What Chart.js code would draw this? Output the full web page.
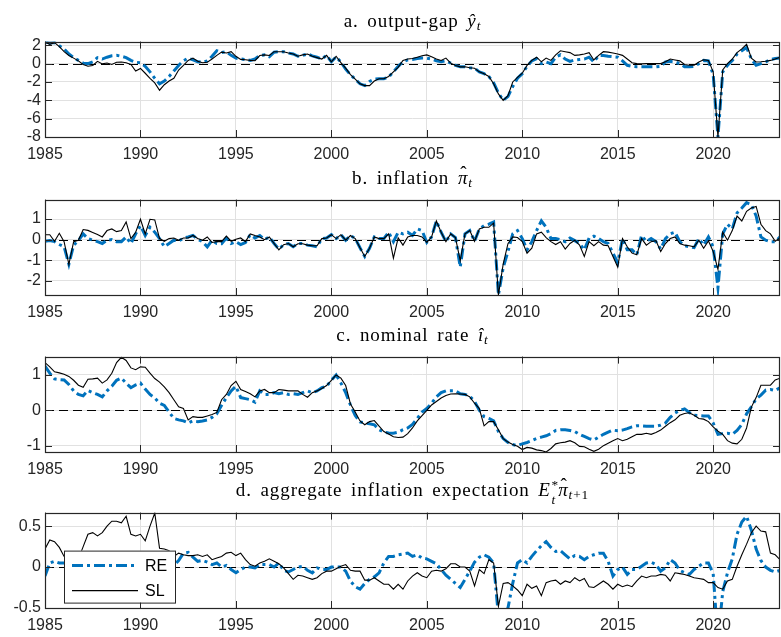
<!DOCTYPE html>
<html>
<head>
<meta charset="utf-8">
<script src="https://cdn.jsdelivr.net/npm/chart.js@4.4.1/dist/chart.umd.min.js"></script>
<style>
  html, body { margin: 0; padding: 0; background: #ffffff; }
  body { width: 781px; height: 637px; position: relative; overflow: hidden; }
  canvas { position: absolute; left: 0; }
  .ttl {
    position: absolute; left: 45px; width: 735px; text-align: center;
    font-family: "Liberation Serif", "Times New Roman", serif;
    font-size: 19px; line-height: 20px; color: #000; z-index: 2;
    letter-spacing: 0.9px; word-spacing: 3px; white-space: nowrap;
  }
  .ttl sub { font-size: 70%; line-height: 0; vertical-align: -0.25em; }
  .hat { position: relative; display: inline-block; }
  .hat .hc { position: absolute; left: 0.12em; top: -0.28em; font-style: normal; }
  .ss { position: relative; display: inline-block; width: 0.55em; height: 1em; font-size: 70%; vertical-align: 0; }
  .ss .sp { position: absolute; left: 0.05em; top: -0.55em; font-style: normal; }
  .ss .sb { position: absolute; left: 0.05em; top: 0.55em; }
</style>
</head>
<body>
<div class="ttl" style="top:11px">a. output-gap <i>ŷ</i><sub><i>t</i></sub></div>
<div class="ttl" style="top:168px">b. inflation <span class="hat"><i>π</i><span class="hc">ˆ</span></span><sub><i>t</i></sub></div>
<div class="ttl" style="top:325px">c. nominal rate <i>î</i><sub><i>t</i></sub></div>
<div class="ttl" style="top:480px">d. aggregate inflation expectation <i>E</i><span class="ss"><span class="sp">*</span><span class="sb"><i>t</i></span></span><span class="hat"><i>π</i><span class="hc">ˆ</span></span><sub><i>t</i>+1</sub></div>

<canvas id="cA" width="781" height="135" style="top:28px"></canvas>
<canvas id="cB" width="781" height="135" style="top:186px"></canvas>
<canvas id="cC" width="781" height="135" style="top:343px"></canvas>
<canvas id="cD" width="781" height="135" style="top:499px"></canvas>

<script>
// Quarterly series, 1985Q1 .. 2023Q3 (four values per year)
const startYear = 1985;

// a. output gap
const gapRE = [
  2.35, 2.25, 2.3, 1.95,   1.6, 1.05, 0.65, 0.35,   0.05, 0.0, 0.2, 0.65,   0.5, 0.7, 0.85, 0.9,
  0.8, 0.65, 0.35, 0.15,   0.1, -0.3, -0.9, -1.6,   -2.2, -1.9, -1.4, -0.8,   -0.2, 0.3, 0.6, 0.4,
  0.2, 0.15, 0.3, 0.8,     1.4, 1.2, 1.3, 0.9,      0.6, 0.5, 0.45, 0.35,     0.5, 0.9, 0.95, 0.75,
  1.25, 1.3, 1.3, 1.15,    1.05, 0.8, 0.9, 1.05,    0.85, 0.7, 0.5, 0.9,      0.2, 0.75, 0.15, -0.6,
  -1.2, -1.7, -2.2, -2.4,  -1.95, -1.7, -1.65, -1.65, -1.45, -0.9, -0.3, 0.2, 0.4, 0.45, 0.55, 0.6,
  0.6, 0.5, 0.3, 0.2,      0.3, 0.05, -0.2, -0.35,  -0.35, -0.45, -0.5, -0.9, -1.1, -1.4, -2.1, -3.2,
  -4.0, -3.6, -2.5, -1.6,  -1.1, -0.3, 0.3, 0.55,   0.0, 0.18, 0.0, 0.7,      0.95, 0.5, 0.25, 0.4,
  0.45, 0.5, 0.7, 0.18,    0.88, 0.88, 0.8, 0.75,   0.7, 0.3, -0.18, -0.3,    -0.35, -0.35, -0.35, -0.35,
  -0.35, -0.3, 0.18, 0.25, 0.18, 0.0, -0.35, -0.35, -0.3, 0.0, 0.35, 0.3,    -1.2, -8.0, -0.9, -0.18,
  0.35, 1.05, 1.4, 1.75,   0.5, -0.18, 0.0, 0.18,   0.45, 0.55, 0.6
];
const gapSL = [
  2.35, 2.1, 2.28, 1.85,   1.3, 0.88, 0.6, 0.3,     -0.1, -0.28, -0.2, 0.25,  -0.03, 0.07, -0.1, 0.15,
  0.18, 0.1, -0.1, -0.8,   -0.53, -1.05, -1.6, -2.1, -2.9, -2.3, -1.9, -1.6, -0.7, -0.2, 0.35, 0.6,
  0.25, 0.1, 0.15, 0.5,    0.9, 1.25, 1.16, 1.3,    0.8, 0.46, 0.42, 0.35,    0.32, 0.88, 0.95, 0.88,
  1.3, 1.3, 1.3, 1.15,     1.05, 0.8, 0.95, 1.05,   0.8, 0.65, 0.5, 0.9,      0.2, 0.8, 0.1, -0.5,
  -1.2, -1.7, -2.2, -2.4,  -2.4, -1.9, -1.65, -1.65, -1.4, -0.9, -0.4, 0.35, 0.5, 0.55, 0.7, 0.85,
  0.95, 0.75, 0.5, 0.35,   0.6, 0.05, -0.2, -0.35,  -0.35, -0.45, -0.5, -0.9, -1.1, -1.4, -2.2, -3.3,
  -4.0, -3.5, -2.0, -1.5,  -1.05, -0.2, 0.35, 0.7,  0.2, 0.6, 0.35, 0.95,     1.4, 1.3, 1.2, 0.9,
  0.95, 1.05, 1.2, 0.4,    0.9, 1.3, 1.25, 1.15,    1.05, 0.9, 0.5, 0.1,      0.0, -0.03, 0.0, 0.0,
  0.0, 0.0, 0.2, 0.5,      0.4, 0.3, -0.1, -0.18,   -0.18, 0.18, 0.42, 0.35,  -0.9, -8.0, -0.7, 0.0,
  0.5, 1.2, 1.6, 2.1,      0.6, 0.18, 0.2, 0.25,    0.35, 0.5, 0.7
];

// b. inflation
const inflRE = [
  -0.08, -0.05, -0.1, -0.24, -0.35, -1.2, -0.27, -0.05, 0.28, 0.05, -0.03, -0.1, -0.19, -0.03, 0.0, -0.1,
  -0.1, 0.13, -0.19, 0.28,   0.68, 0.2, 0.6, 0.36,     0.05, -0.35, -0.19, -0.03, -0.08, 0.08, 0.13, 0.2,
  0.02, -0.1, -0.35, -0.03,  -0.19, -0.2, 0.08, -0.19, -0.1, -0.24, -0.14, 0.24, 0.08, 0.2, 0.0, 0.13,
  -0.19, -0.46, -0.25, -0.19, -0.35, -0.19, -0.19, -0.27, -0.3, -0.35, 0.05, 0.08, 0.24, 0.05, 0.24, -0.03,
  0.2, 0.05, -0.4, -0.82,    -0.42, 0.13, 0.05, 0.05,  0.36, -0.1, 0.36, 0.28,  0.36, 0.2, 0.52, 0.44,
  -0.14, 0.13, 0.91, 0.36,   -0.1, 0.28, 0.1, -1.34,   0.28, 0.44, -0.08, 0.52, 0.68, 0.75, 0.86, -2.7,
  -1.37, -0.58, 0.28, 0.44,  0.05, -0.5, -0.1, 0.44,   0.91, 0.6, 0.05, 0.05,   0.0, -0.1, 0.08, -0.05,
  -0.19, -0.5, 0.08, 0.17,   0.05, -0.1, -0.19, -0.66, -1.13, 0.05, -0.5, -0.5, -0.74, 0.2, -0.1, 0.05,
  -0.1, -0.46, 0.05, 0.28,   0.36, -0.1, -0.3, -0.35,  -0.39, 0.05, -0.27, 0.13, -0.35, -2.34, 0.28, 0.75,
  0.52, 1.3, 1.54, 1.8,      1.7, 1.15, 0.13, -0.03,   -0.1, -0.1, 0.13
];
const inflSL = [
  0.24, 0.24, -0.08, 0.31,   -0.1, -1.21, -0.1, -0.03, 0.49, 0.45, 0.35, 0.25, 0.13, 0.44, 0.52, 0.39,
  0.44, 0.86, 0.05, 0.36,    0.99, 0.28, 0.99, 0.96,   0.05, -0.08, 0.05, 0.08, -0.03, 0.08, 0.08, 0.2,
  0.05, -0.03, 0.13, -0.14,  -0.1, -0.1, 0.17, -0.08,  0.02, 0.08, -0.1, 0.28, 0.2, 0.13, 0.0, 0.13,
  -0.19, -0.5, -0.25, -0.19, -0.35, -0.2, -0.2, -0.27, -0.3, -0.3, 0.05, 0.08, 0.24, 0.05, 0.24, -0.03,
  0.2, 0.05, -0.4, -0.82,    -0.42, 0.13, 0.05, 0.05,  0.28, -0.9, 0.08, -0.27, 0.13, 0.2, 0.2, 0.13,
  -0.14, 0.13, 0.91, 0.36,   -0.1, 0.28, 0.1, -1.02,   0.28, 0.44, -0.08, 0.52, 0.6, 0.6, 0.8, -2.7,
  -1.2, -0.2, 0.13, 0.1,     -0.1, -0.66, -0.42, 0.28, 0.36, 0.1, -0.1, -0.24, -0.1, -0.46, -0.19, -0.03,
  -0.27, -0.82, -0.1, -0.3,  -0.1, -0.27, -0.3, -0.82, -1.34, 0.05, -0.35, -0.66, -0.74, 0.05, -0.27, -0.1,
  -0.05, -0.58, -0.19, 0.05, 0.13, -0.19, -0.27, -0.3, -0.35, -0.03, -0.42, -0.06, -0.58, -1.45, 0.36, -0.03,
  0.44, 1.15, 0.91, 1.38,    1.54, 1.62, 0.75, 0.44,   0.28, -0.08, 0.08
];

// c. nominal rate
const rateRE = [
  1.25, 1.05, 0.89, 0.87,   0.86, 0.73, 0.55, 0.45,   0.41, 0.56, 0.5, 0.45,    0.38, 0.55, 0.68, 0.85,
  0.91, 0.77, 0.64, 0.72,   0.77, 0.6, 0.45, 0.35,    0.2, 0.14, -0.05, -0.23,  -0.27, -0.3, -0.36, -0.3,
  -0.32, -0.3, -0.27, -0.2, -0.1, 0.14, 0.36, 0.55,   0.68, 0.36, 0.33, 0.3,    0.23, 0.55, 0.45, 0.45,
  0.5, 0.47, 0.5, 0.45,     0.47, 0.45, 0.5, 0.55,    0.5, 0.55, 0.64, 0.68,    0.85, 1.0, 0.77, 0.5,
  0.15, -0.15, -0.33, -0.36, -0.38, -0.41, -0.55, -0.62, -0.64, -0.65, -0.62, -0.55, -0.5, -0.4, -0.23, -0.05,
  0.05, 0.2, 0.38, 0.5,     0.55, 0.55, 0.55, 0.47,   0.45, 0.4, 0.25, 0.0,     -0.18, -0.23, -0.3, -0.6,
  -0.8, -0.91, -0.97, -1.0, -0.95, -0.91, -0.86, -0.8, -0.76, -0.72, -0.66, -0.57, -0.55, -0.55, -0.57, -0.6,
  -0.68, -0.74, -0.8, -0.84, -0.76, -0.68, -0.62, -0.56, -0.58, -0.56, -0.52, -0.47, -0.44, -0.44, -0.45, -0.45,
  -0.45, -0.42, -0.36, -0.2, -0.08, 0.0, 0.04, -0.06, -0.14, -0.15, -0.16, -0.16, -0.36, -0.68, -0.66, -0.65,
  -0.68, -0.57, -0.4, -0.1, 0.1, 0.32, 0.43, 0.57,    0.59, 0.56, 0.64
];
const rateSL = [
  1.35, 1.23, 1.09, 1.06,   1.02, 0.96, 0.85, 0.71,   0.65, 0.88, 0.89, 0.91,   0.77, 0.86, 1.05, 1.35,
  1.5, 1.41, 1.2, 1.15,     1.23, 1.22, 1.05, 0.9,    0.8, 0.66, 0.5, 0.3,      0.1, 0.05, -0.27, -0.18,
  -0.2, -0.2, -0.16, -0.12, -0.06, 0.3, 0.45, 0.7,    0.82, 0.59, 0.53, 0.47,   0.38, 0.55, 0.59, 0.5,
  0.5, 0.59, 0.57, 0.55,    0.55, 0.55, 0.45, 0.37,   0.5, 0.55, 0.62, 0.7,     0.85, 1.0, 0.91, 0.7,
  0.18, -0.05, -0.3, -0.41, -0.32, -0.29, -0.45, -0.6, -0.67, -0.75, -0.77, -0.76, -0.66, -0.5, -0.3, -0.15,
  0.0, 0.15, 0.25, 0.35,    0.42, 0.46, 0.47, 0.46,   0.45, 0.38, 0.2, 0.05,    -0.44, -0.32, -0.32, -0.55,
  -0.8, -0.9, -0.97, -1.02, -1.11, -1.05, -1.07, -1.12, -1.14, -1.18, -1.08, -0.95, -0.92, -0.9, -0.86, -0.92,
  -1.02, -1.03, -1.1, -1.16, -1.1, -1.0, -0.93, -0.86, -0.8, -0.86, -0.82, -0.75, -0.68, -0.68, -0.65, -0.68,
  -0.63, -0.56, -0.45, -0.35, -0.27, -0.14, -0.09, -0.07, -0.14, -0.23, -0.25, -0.32, -0.47, -0.59, -0.68, -0.86,
  -0.93, -0.95, -0.82, -0.5, 0.09, 0.36, 0.71, 0.71,  0.71, 0.86, 0.91
];

// d. aggregate inflation expectation
const expRE = [
  -0.11, 0.05, 0.07, 0.05,  0.05, 0.03, 0.0, -0.02,  0.0, 0.02, 0.05, 0.0,     -0.03, 0.0, 0.03, 0.02,
  0.0, 0.05, 0.02, 0.05,    0.08, 0.05, 0.03, 0.0,   -0.03, -0.02, 0.0, 0.02,  0.08, 0.17, 0.18, 0.12,
  0.07, 0.08, 0.06, 0.03,   0.05, 0.0, 0.02, -0.03,  -0.07, -0.03, 0.0, 0.0,   -0.01, 0.03, 0.03, 0.03,
  0.0, 0.05, -0.04, -0.06,  -0.03, 0.0, 0.01, -0.04, -0.07, -0.01, -0.03, -0.03, 0.0, 0.0, 0.0, -0.05,
  -0.17, -0.24, -0.27, -0.2, -0.15, -0.12, -0.07, 0.05, 0.13, 0.13, 0.15, 0.16, 0.17, 0.13, 0.15, 0.11,
  0.1, 0.07, 0.04, -0.03,   -0.1, -0.15, -0.2, -0.25, -0.15, -0.05, 0.06, 0.12, 0.15, 0.12, 0.05, -0.6,
  -0.7, -0.5, -0.2, 0.05,   0.09, 0.05, 0.13, 0.2,   0.26, 0.31, 0.24, 0.19,   0.2, 0.15, 0.1, 0.14,
  0.13, 0.09, 0.13, 0.15,   0.17, 0.17, 0.07, -0.11, -0.03, 0.0, -0.09, -0.03, -0.03, 0.01, 0.05, 0.06,
  0.03, -0.05, -0.01, 0.09, 0.05, -0.04, -0.07, -0.09, -0.03, 0.01, 0.05, 0.05, -0.08, -0.9, -0.3, -0.07,
  0.1, 0.4, 0.55, 0.62,     0.45, 0.22, 0.08, 0.0,   -0.04, -0.06, -0.04
];
const expSL = [
  0.22, 0.33, 0.31, 0.24,   0.13, 0.1, 0.08, 0.1,    0.25, 0.4, 0.42, 0.38,    0.42, 0.5, 0.56, 0.56,
  0.54, 0.62, 0.4, 0.38,    0.4, 0.32, 0.5, 0.66,    0.23, 0.22, 0.2, 0.13,    0.17, 0.15, 0.14, 0.14,
  0.15, 0.13, 0.15, 0.09,   0.11, 0.13, 0.17, 0.18,  0.14, 0.17, 0.09, 0.03,   0.01, 0.05, 0.07, 0.1,
  0.07, 0.04, -0.01, -0.08, -0.15, -0.1, -0.11, -0.13, -0.15, -0.13, -0.08, -0.05, -0.05, -0.02, 0.01, 0.03,
  -0.04, -0.05, -0.05, -0.16, -0.16, -0.13, -0.17, -0.21, -0.21, -0.27, -0.21, -0.27, -0.17, -0.11, -0.07, -0.11,
  -0.13, -0.05, -0.04, -0.05, -0.02, 0.04, 0.04, 0.0, 0.0, -0.05, -0.23, -0.03, -0.08, 0.09, 0.05, -0.48,
  -0.2, -0.19, -0.23, -0.28, -0.35, -0.21, -0.26, -0.23, -0.35, -0.19, -0.17, -0.16, -0.21, -0.17, -0.19, -0.13,
  -0.17, -0.14, -0.24, -0.25, -0.21, -0.17, -0.21, -0.27, -0.21, -0.24, -0.22, -0.24, -0.17, -0.11, -0.13, -0.11,
  -0.11, -0.09, -0.1, -0.17, -0.07, -0.08, -0.09, -0.11, -0.13, -0.14, -0.15, -0.19, -0.19, -0.25, -0.27, -0.17,
  -0.15, 0.01, 0.15, 0.28,  0.42, 0.5, 0.44, 0.43,   0.17, 0.15, 0.09
];

// Axis settings
const xMin = 1985, xMax = 2023.5, xStep = 5;
const seriesNames = ['RE', 'SL'];

const RE_COLOR = '#0072BD';
const AXIS_COLOR = '#262626';
const GRID_COLOR = '#e1e1e1';
const TICK_FONT = { family: '"Liberation Sans", Arial, Helvetica, sans-serif', size: 16 };

const toPoints = vals => vals.map((v, i) => ({ x: startYear + i / 4, y: v }));
const fmt = v => String(Math.round(v * 100) / 100);

// Box, inward tick marks and the dashed zero reference line
const framePlugin = {
  id: 'frame',
  beforeDatasetsDraw(chart) {
    const { ctx, chartArea: a, scales } = chart;
    const y0 = scales.y.getPixelForValue(0);
    ctx.save();
    ctx.beginPath();
    ctx.rect(a.left, a.top, a.right - a.left, a.bottom - a.top);
    ctx.clip();
    ctx.strokeStyle = '#000';
    ctx.lineWidth = 1;
    ctx.setLineDash([9, 5]);
    ctx.beginPath();
    ctx.moveTo(a.left, Math.round(y0) + 0.5);
    ctx.lineTo(a.right, Math.round(y0) + 0.5);
    ctx.stroke();
    ctx.restore();
  },
  afterDatasetsDraw(chart) {
    const { ctx, chartArea: a, scales } = chart;
    const len = 7;
    ctx.save();
    ctx.strokeStyle = AXIS_COLOR;
    ctx.lineWidth = 1;
    ctx.setLineDash([]);
    ctx.beginPath();
    scales.x.ticks.forEach(t => {
      const px = Math.round(scales.x.getPixelForValue(t.value)) + 0.5;
      ctx.moveTo(px, a.bottom); ctx.lineTo(px, a.bottom - len);
      ctx.moveTo(px, a.top); ctx.lineTo(px, a.top + len);
    });
    scales.y.ticks.forEach(t => {
      const py = Math.round(scales.y.getPixelForValue(t.value)) + 0.5;
      ctx.moveTo(a.left, py); ctx.lineTo(a.left + len, py);
      ctx.moveTo(a.right, py); ctx.lineTo(a.right - len, py);
    });
    ctx.stroke();
    ctx.lineWidth = 1.2;
    ctx.strokeRect(Math.round(a.left) + 0.5, Math.round(a.top) + 0.5,
                   Math.round(a.right - a.left) - 1, Math.round(a.bottom - a.top));
    ctx.restore();
  }
};

// Boxed legend inside the last panel
const legendPlugin = {
  id: 'boxLegend',
  afterDraw(chart, args, opts) {
    if (!opts || !opts.show) return;
    const { ctx, chartArea: a } = chart;
    const bx = a.left + 19, by = a.top + 38, bw = 111, bh = 52;
    ctx.save();
    ctx.fillStyle = '#ffffff';
    ctx.fillRect(bx, by, bw, bh);
    ctx.strokeStyle = AXIS_COLOR;
    ctx.lineWidth = 1;
    ctx.strokeRect(bx + 0.5, by + 0.5, bw, bh);
    chart.data.datasets.forEach((ds, k) => {
      const ly = by + 15 + k * 25;
      ctx.strokeStyle = ds.borderColor;
      ctx.lineWidth = ds.borderWidth;
      ctx.setLineDash(ds.borderDash || []);
      ctx.beginPath();
      ctx.moveTo(bx + 8, ly);
      ctx.lineTo(bx + 74, ly);
      ctx.stroke();
      ctx.setLineDash([]);
      ctx.fillStyle = '#000';
      ctx.font = '16px "Liberation Sans", Arial, sans-serif';
      ctx.textBaseline = 'middle';
      ctx.fillText(ds.label, bx + 81, ly + 1);
    });
    ctx.restore();
  }
};

function makePanel(id, reVals, slVals, yMin, yMax, yStep, withLegend) {
  return new Chart(document.getElementById(id), {
    type: 'line',
    data: {
      datasets: [
        { label: seriesNames[0], data: toPoints(reVals), borderColor: RE_COLOR, borderWidth: 3,
          borderDash: [11, 4, 3, 4], pointRadius: 0, tension: 0, fill: false, clip: 0, order: 1 },
        { label: seriesNames[1], data: toPoints(slVals), borderColor: '#000000', borderWidth: 1.1,
          pointRadius: 0, tension: 0, fill: false, clip: 0, order: 0 }
      ]
    },
    options: {
      responsive: false,
      animation: false,
      devicePixelRatio: 1,
      layout: { padding: { top: 10, right: 1, left: 0, bottom: 0 } },
      plugins: {
        legend: { display: false },
        tooltip: { enabled: false },
        boxLegend: { show: withLegend }
      },
      scales: {
        x: {
          type: 'linear', min: xMin, max: xMax,
          afterFit: s => { s.height = 26; },
          ticks: { stepSize: xStep, includeBounds: false, autoSkip: false, maxRotation: 0,
                   callback: v => String(v), font: TICK_FONT, color: AXIS_COLOR, padding: 8 },
          grid: { color: GRID_COLOR, lineWidth: 1, drawTicks: false },
          border: { display: false }
        },
        y: {
          min: yMin, max: yMax,
          afterFit: s => { s.width = 45; },
          ticks: { stepSize: yStep, includeBounds: false, autoSkip: false, callback: v => fmt(v),
                   font: TICK_FONT, color: AXIS_COLOR, padding: 4 },
          grid: { color: GRID_COLOR, lineWidth: 1, drawTicks: false },
          border: { display: false }
        }
      }
    },
    plugins: [framePlugin, legendPlugin]
  });
}

makePanel('cA', gapRE, gapSL, -8, 2.4, 2, false);
makePanel('cB', inflRE, inflSL, -2.7, 1.95, 1, false);
makePanel('cC', rateRE, rateSL, -1.18, 1.52, 1, false);
makePanel('cD', expRE, expSL, -0.5, 0.665, 0.5, true);
</script>
</body>
</html>
